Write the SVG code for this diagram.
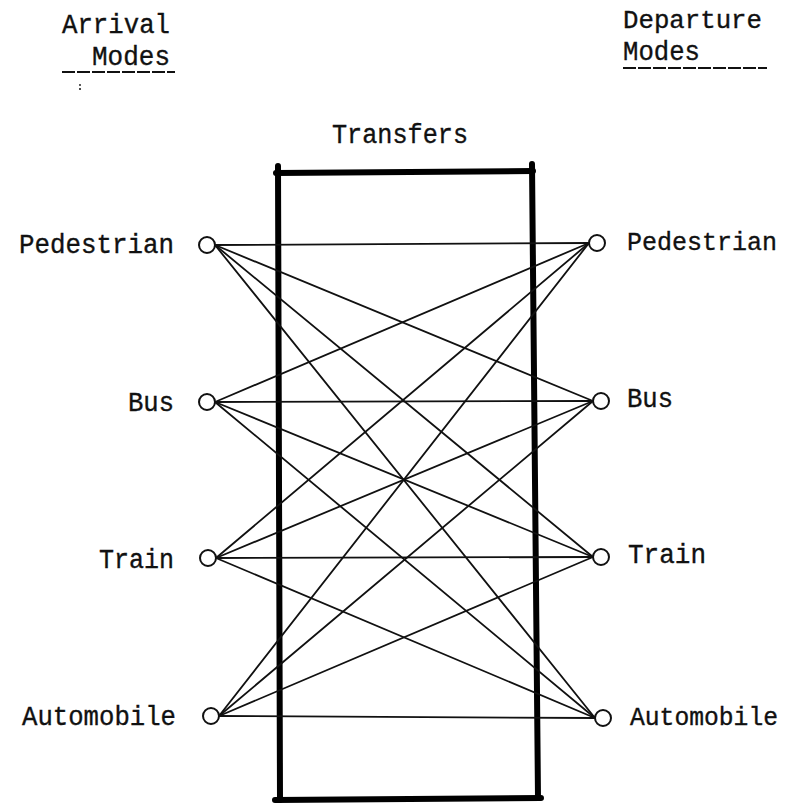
<svg xmlns="http://www.w3.org/2000/svg" width="788" height="806" viewBox="0 0 788 806">
  <style>
    text { font-family: "Liberation Mono", "Courier New", monospace; font-size: 27px; fill: #111; stroke: #111; stroke-width: 0.35; }
    .lbl-l { text-anchor: end; }
    .lbl-r { font-size: 25px; }
    .edge { stroke: #111; stroke-width: 1.8; fill: none; stroke-linecap: round; }
    .node { fill: #fff; stroke: #111; stroke-width: 2; }
    .frame { stroke: #000; stroke-width: 6; fill: none; stroke-linecap: round; }
    .rule { stroke: #111; stroke-width: 1.8; stroke-dasharray: 13 2; }
  </style>

  <!-- column headings -->
  <g id="heading-arrival">
    <text x="62" y="33" textLength="108" lengthAdjust="spacingAndGlyphs">Arrival</text>
    <text x="92" y="65" textLength="78" lengthAdjust="spacingAndGlyphs">Modes</text>
    <line class="rule" x1="62" y1="72" x2="175" y2="72"/>
    <circle cx="80" cy="85" r="0.9" fill="#111"/>
    <circle cx="80" cy="89" r="1" fill="#111"/>
  </g>
  <g id="heading-departure">
    <text class="lbl-r" x="623" y="28" textLength="139" lengthAdjust="spacingAndGlyphs">Departure</text>
    <text x="623" y="60" textLength="77" lengthAdjust="spacingAndGlyphs">Modes</text>
    <line class="rule" x1="623" y1="68" x2="767" y2="68"/>
  </g>

  <!-- transfer frame -->
  <g id="transfers">
    <text x="332" y="143" textLength="136" lengthAdjust="spacingAndGlyphs">Transfers</text>
    <path class="frame" d="M276 173 L533 171"/>
    <path class="frame" d="M278 166 L280 800"/>
    <path class="frame" d="M532 164 L538 798"/>
    <path class="frame" d="M275 800 L541 798"/>
  </g>

  <!-- every arrival mode linked to every departure mode -->
  <g id="connectors">
    <line class="edge" x1="215" y1="245" x2="589" y2="243"/>
    <line class="edge" x1="215" y1="245" x2="593" y2="401"/>
    <line class="edge" x1="215" y1="245" x2="593" y2="557"/>
    <line class="edge" x1="215" y1="245" x2="595" y2="718"/>

    <line class="edge" x1="215" y1="402" x2="589" y2="243"/>
    <line class="edge" x1="215" y1="402" x2="593" y2="401"/>
    <line class="edge" x1="215" y1="402" x2="593" y2="557"/>
    <line class="edge" x1="215" y1="402" x2="595" y2="718"/>

    <line class="edge" x1="216" y1="558" x2="589" y2="243"/>
    <line class="edge" x1="216" y1="558" x2="593" y2="401"/>
    <line class="edge" x1="216" y1="558" x2="593" y2="557"/>
    <line class="edge" x1="216" y1="558" x2="595" y2="718"/>

    <line class="edge" x1="219" y1="716" x2="589" y2="243"/>
    <line class="edge" x1="219" y1="716" x2="593" y2="401"/>
    <line class="edge" x1="219" y1="716" x2="593" y2="557"/>
    <line class="edge" x1="219" y1="716" x2="595" y2="718"/>
  </g>

  <!-- arrival nodes -->
  <g id="arr-pedestrian">
    <circle class="node" cx="207" cy="245" r="8"/>
    <text class="lbl-l" x="174" y="253" textLength="155" lengthAdjust="spacingAndGlyphs">Pedestrian</text>
  </g>
  <g id="arr-bus">
    <circle class="node" cx="207" cy="402" r="8"/>
    <text class="lbl-l" x="174" y="411" textLength="46" lengthAdjust="spacingAndGlyphs">Bus</text>
  </g>
  <g id="arr-train">
    <circle class="node" cx="208" cy="558" r="8"/>
    <text class="lbl-l" x="174" y="568" textLength="75" lengthAdjust="spacingAndGlyphs">Train</text>
  </g>
  <g id="arr-automobile">
    <circle class="node" cx="211" cy="716" r="8"/>
    <text class="lbl-l" x="176" y="725" textLength="154" lengthAdjust="spacingAndGlyphs">Automobile</text>
  </g>

  <!-- departure nodes -->
  <g id="dep-pedestrian">
    <circle class="node" cx="597" cy="243" r="8"/>
    <text class="lbl-r" x="627" y="250" textLength="150" lengthAdjust="spacingAndGlyphs">Pedestrian</text>
  </g>
  <g id="dep-bus">
    <circle class="node" cx="601" cy="401" r="8"/>
    <text x="627" y="407" textLength="46" lengthAdjust="spacingAndGlyphs">Bus</text>
  </g>
  <g id="dep-train">
    <circle class="node" cx="601" cy="557" r="8"/>
    <text x="628" y="563" textLength="78" lengthAdjust="spacingAndGlyphs">Train</text>
  </g>
  <g id="dep-automobile">
    <circle class="node" cx="603" cy="718" r="8"/>
    <text class="lbl-r" x="630" y="725" textLength="148" lengthAdjust="spacingAndGlyphs">Automobile</text>
  </g>
</svg>
